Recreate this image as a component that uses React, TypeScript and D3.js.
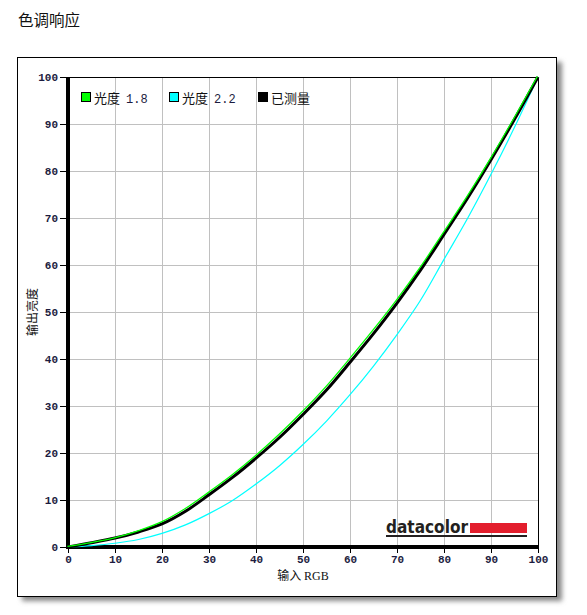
import * as d3 from 'd3';
import { useEffect, useRef } from 'react';

// chart values
const inputRGB = [0, 5, 10, 15, 20, 25, 30, 35, 40, 45, 50, 55, 60, 65, 70, 75, 80, 85, 90, 95, 100];
const gamma18 = [0, 0.8, 1.8, 3.3, 5.2, 8.0, 11.5, 15.2, 19.3, 23.8, 28.7, 34.0, 39.9, 46.0, 52.4, 59.3, 66.8, 74.4, 82.5, 91.1, 100];
const gamma22 = [0, 0.3, 0.8, 1.6, 2.9, 4.7, 7.1, 9.9, 13.4, 17.3, 21.8, 26.8, 32.4, 38.5, 45.2, 52.5, 61.2, 69.9, 79.3, 89.3, 100];
const measured = [0, 0.9, 1.9, 3.2, 4.9, 7.6, 11.1, 14.8, 18.9, 23.3, 28.2, 33.4, 39.3, 45.4, 51.9, 58.9, 66.5, 74.2, 82.4, 91.0, 100];
const tickValues = [0, 10, 20, 30, 40, 50, 60, 70, 80, 90, 100];
const legendLabels = [
    { name: '光度', num: '1.8', color: '#00ff00' },
    { name: '光度', num: '2.2', color: '#00ffff' },
    { name: '已测量', num: '', color: '#000000' },
];

function App() {
    const ref = useRef<SVGSVGElement>(null);

    useEffect(() => {
        const width = 587, height = 615;
        const svg = d3.select(ref.current);
        svg.selectAll('*').remove();
        svg.attr('width', width).attr('height', height);

        const left = 68, right = 538, top = 77, bottom = 547;
        const x = d3.scaleLinear().domain([0, 100]).range([left, right]);
        const y = d3.scaleLinear().domain([0, 100]).range([bottom, top]);
        const mono = '"Liberation Mono", "DejaVu Sans Mono", monospace';
        const cjk = '"Noto Sans CJK SC", sans-serif';

        // title
        svg.append('text')
            .attr('x', 18).attr('y', 26)
            .attr('font-family', cjk).attr('font-size', 15.5)
            .attr('fill', '#111')
            .text('色调响应');

        // frame with shadow
        const defs = svg.append('defs');
        const f = defs.append('filter').attr('id', 'sh').attr('x', '-5%').attr('y', '-5%').attr('width', '115%').attr('height', '115%');
        f.append('feGaussianBlur').attr('stdDeviation', 2.5);
        svg.append('rect')
            .attr('x', 22).attr('y', 62).attr('width', 540).attr('height', 539)
            .attr('fill', '#888').attr('filter', 'url(#sh)');
        svg.append('rect')
            .attr('x', 17.5).attr('y', 57.5).attr('width', 539).attr('height', 539)
            .attr('fill', '#fff').attr('stroke', '#000').attr('stroke-width', 1);

        // grid
        const grid = svg.append('g').attr('stroke', '#c0c0c0').attr('stroke-width', 1);
        tickValues.slice(1, -1).forEach(v => {
            grid.append('line').attr('x1', x(v) + 0.5).attr('x2', x(v) + 0.5).attr('y1', top).attr('y2', bottom);
            grid.append('line').attr('y1', y(v) + 0.5).attr('y2', y(v) + 0.5).attr('x1', left).attr('x2', right);
        });

        // top / right border
        svg.append('path')
            .attr('d', `M${left},${top + 0.5}H${right + 0.5}V${bottom}`)
            .attr('fill', 'none').attr('stroke', '#000').attr('stroke-width', 1);

        // axes
        const yAxis = svg.append('g')
            .attr('transform', `translate(${left - 2},0)`)
            .call(d3.axisLeft(y).tickValues(tickValues).tickSize(6).tickPadding(2));
        const xAxis = svg.append('g')
            .attr('transform', `translate(0,${bottom + 2})`)
            .call(d3.axisBottom(x).tickValues(tickValues).tickSize(4).tickPadding(2));
        [xAxis, yAxis].forEach(a => {
            a.select('.domain').remove();
            a.selectAll('line').attr('stroke', '#000');
            a.selectAll('text')
                .attr('font-family', mono).attr('font-size', 11).attr('font-weight', 'bold')
                .attr('fill', '#1c1c40');
        });
        svg.append('line').attr('x1', left).attr('x2', left).attr('y1', top).attr('y2', bottom + 2)
            .attr('stroke', '#000').attr('stroke-width', 4);
        svg.append('line').attr('x1', left - 2).attr('x2', right + 1).attr('y1', bottom).attr('y2', bottom)
            .attr('stroke', '#000').attr('stroke-width', 4);

        // axis titles
        svg.append('text')
            .attr('x', (left + right) / 2).attr('y', 580)
            .attr('text-anchor', 'middle').attr('font-size', 12).attr('fill', '#111')
            .call(t => {
                t.append('tspan').attr('font-family', cjk).text('输入 ');
                t.append('tspan').attr('font-family', '"Liberation Serif", serif').text('RGB');
            });
        svg.append('text')
            .attr('transform', `translate(37,${(top + bottom) / 2}) rotate(-90)`)
            .attr('text-anchor', 'middle').attr('font-family', cjk).attr('font-size', 12).attr('fill', '#111')
            .text('输出亮度');

        // logo
        const logo = svg.append('g');
        logo.append('text')
            .attr('x', 386).attr('y', 533)
            .attr('font-family', '"DejaVu Sans", sans-serif').attr('font-weight', 'bold')
            .attr('font-size', 17).attr('textLength', 82).attr('lengthAdjust', 'spacingAndGlyphs')
            .attr('fill', '#231f20')
            .text('datacolor');
        logo.append('rect').attr('x', 470).attr('y', 523).attr('width', 57).attr('height', 10).attr('fill', '#e31e2d');
        logo.append('rect').attr('x', 386).attr('y', 535).attr('width', 141).attr('height', 2).attr('fill', '#231f20');

        // curves
        const line = d3.line<number>()
            .x((_, i) => x(inputRGB[i]))
            .y(d => y(d))
            .curve(d3.curveMonotoneX);
        const curves = svg.append('g');
        curves.append('path').datum(gamma22).attr('fill', 'none').attr('stroke', '#00ffff').attr('stroke-width', 1.2).attr('d', line);
        curves.append('path').datum(measured).attr('fill', 'none').attr('stroke', '#000').attr('stroke-width', 3).attr('d', line);
        curves.append('path').datum(gamma18).attr('fill', 'none').attr('stroke', '#00ff00').attr('stroke-width', 1.3).attr('d', line)
            .attr('transform', 'translate(-0.6,-0.6)');

        // legend
        const legendX = [81, 169, 258];
        legendLabels.forEach((l, i) => {
            const g = svg.append('g').attr('transform', `translate(${legendX[i]},92)`);
            g.append('rect').attr('x', 0.5).attr('y', 0.5).attr('width', 9).attr('height', 9)
                .attr('fill', l.color).attr('stroke', '#000').attr('stroke-width', 1);
            const t = g.append('text').attr('x', 13).attr('y', 10.5).attr('fill', '#111');
            t.append('tspan').attr('font-family', cjk).attr('font-size', 13).text(l.name);
            if (l.num) {
                t.append('tspan').attr('font-family', mono).attr('font-size', 12).attr('fill', '#1c1c40').attr('dx', 6).text(l.num);
            }
        });
    }, []);

    return <svg ref={ref} style={{ position: 'absolute', left: 0, top: 0 }} />;
}

export default App;
